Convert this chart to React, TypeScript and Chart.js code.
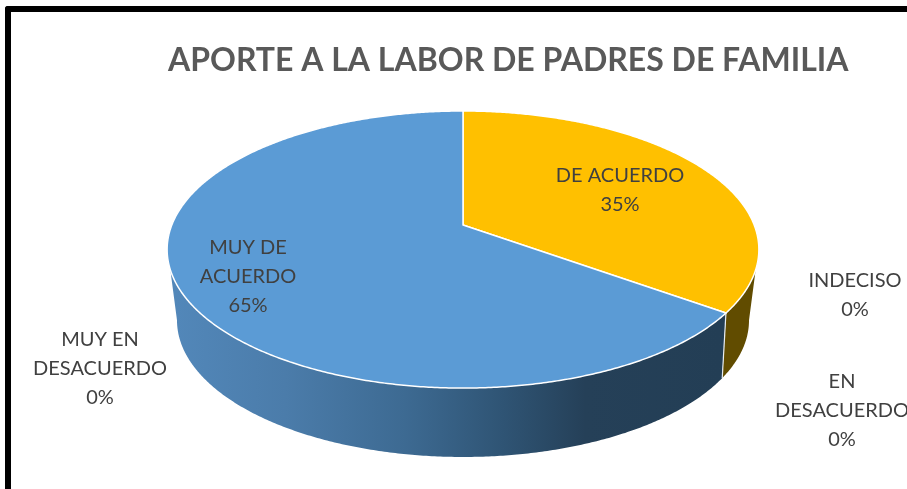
import React, { useEffect, useRef } from "react";
import { Chart, registerables } from "chart.js";

Chart.register(...registerables);

const categories = ["DE ACUERDO", "INDECISO", "EN DESACUERDO", "MUY EN DESACUERDO", "MUY DE ACUERDO"];
const values = [35, 0, 0, 0, 65];
const topColors = ["#FFC000", "#A5A5A5", "#ED7D31", "#4472C4", "#5B9BD5"];
const wrappedLabels = [["DE ACUERDO"], ["INDECISO"], ["EN", "DESACUERDO"], ["MUY EN", "DESACUERDO"], ["MUY DE", "ACUERDO"]];
const chartTitle = "APORTE A LA LABOR DE PADRES DE FAMILIA";

// label block centres (x, y of the first line)
const labelAnchors = [
  [620, 176],
  [855, 281],
  [842, 382],
  [100, 340],
  [248, 248],
];

// perspective of the upper and lower discs
const TOP = { rx: 291.2, ry: 134.2, k: 0.177, dy: 0 };
const LOW = { rx: 279, ry: 130, k: 0.22, dy: 65.3 };
const TOP_SIDE_START = 0.3216;
const LOW_SIDE_START = 0.2218;
// chart area is widened to the right so the title keeps its natural width
const PIE_SHIFT_X = -74.5;

type Disc = typeof TOP;
const project = (d: Disc, cx: number, cy: number, a: number) => {
  const u = Math.cos(a);
  const v = Math.sin(a);
  const w = 1 - d.k * v;
  return [cx + PIE_SHIFT_X + (d.rx * u) / w, cy + d.dy + (d.ry * v) / w];
};

const trace = (ctx: CanvasRenderingContext2D, d: Disc, cx: number, cy: number, a0: number, a1: number) => {
  const n = Math.max(2, Math.ceil(Math.abs(a1 - a0) / 0.008));
  for (let i = 0; i <= n; i++) {
    const [x, y] = project(d, cx, cy, a0 + ((a1 - a0) * i) / n);
    ctx.lineTo(x, y);
  }
};

const pie3d = {
  id: "pie3d",
  beforeDatasetDraw(chart: any) {
    const ctx: CanvasRenderingContext2D = chart.ctx;
    const arcs = chart.getDatasetMeta(0).data.filter((_: any, i: number) => values[i] > 0);
    ctx.save();
    // side walls
    arcs.forEach((arc: any, idx: number) => {
      const { x: cx, y: cy, startAngle, endAngle } = arc;
      const t0 = Math.max(startAngle, TOP_SIDE_START);
      const t1 = Math.min(endAngle, Math.PI - TOP_SIDE_START);
      const l0 = startAngle > LOW_SIDE_START ? startAngle : LOW_SIDE_START;
      const l1 = Math.min(endAngle, Math.PI - LOW_SIDE_START);
      ctx.beginPath();
      trace(ctx, TOP, cx, cy, t0, t1);
      trace(ctx, LOW, cx, cy, l1, l0);
      ctx.closePath();
      if (idx === 0) {
        ctx.fillStyle = "#614C00";
      } else {
        const g = ctx.createLinearGradient(176, 0, 722, 0);
        g.addColorStop(0, "#5287B9");
        g.addColorStop(0.2, "#4B7CAA");
        g.addColorStop(0.42, "#3D6A92");
        g.addColorStop(0.6, "#2F5474");
        g.addColorStop(0.75, "#254058");
        g.addColorStop(1, "#233E55");
        ctx.fillStyle = g;
      }
      ctx.fill();
    });
    // seam between the two walls
    const seam = arcs[0];
    const [sx0, sy0] = project(TOP, seam.x, seam.y, seam.endAngle);
    const [sx1, sy1] = project(LOW, seam.x, seam.y, seam.endAngle);
    ctx.strokeStyle = "#E8EDF2";
    ctx.lineWidth = 1.2;
    ctx.beginPath();
    ctx.moveTo(sx0, sy0);
    ctx.lineTo(sx1, sy1);
    ctx.stroke();
    // top faces
    arcs.forEach((arc: any) => {
      const { x: cx, y: cy, startAngle, endAngle } = arc;
      ctx.beginPath();
      ctx.moveTo(cx + PIE_SHIFT_X, cy);
      trace(ctx, TOP, cx, cy, startAngle, endAngle);
      ctx.closePath();
      ctx.fillStyle = arc.options.backgroundColor;
      ctx.fill();
      ctx.lineJoin = "round";
      ctx.lineWidth = 1.5;
      ctx.strokeStyle = "#FFFFFF";
      ctx.stroke();
    });
    ctx.restore();
    return false;
  },
  afterDraw(chart: any) {
    const ctx: CanvasRenderingContext2D = chart.ctx;
    const total = values.reduce((a, b) => a + b, 0);
    ctx.save();
    ctx.font = "20px Lato";
    ctx.fillStyle = "#404040";
    ctx.textAlign = "center";
    ctx.textBaseline = "middle";
    const lh = 29;
    categories.forEach((_, i) => {
      const [x, y] = labelAnchors[i];
      const lines = [...wrappedLabels[i], `${Math.round((values[i] / total) * 100)}%`];
      lines.forEach((t, j) => ctx.fillText(t, x, y + j * lh));
    });
    ctx.restore();
  },
};

export default function App() {
  const ref = useRef<HTMLCanvasElement>(null);
  useEffect(() => {
    const chart = new Chart(ref.current!, {
      type: "pie",
      data: {
        labels: categories,
        datasets: [{ data: values, backgroundColor: topColors, borderWidth: 0 }],
      },
      options: {
        animation: false,
        responsive: false,
        layout: { padding: { left: 168, right: 0, top: 0, bottom: 127.4 } },
        plugins: {
          legend: { display: false },
          tooltip: { enabled: false },
          title: {
            display: true,
            text: chartTitle,
            align: "start",
            color: "#595959",
            font: { family: "Lato", size: 32, weight: "bold", lineHeight: 1.2 },
            padding: { top: 41, bottom: 9 },
          },
        },
      },
      plugins: [pie3d],
    } as any);
    return () => chart.destroy();
  }, []);
  return (
    <div style={{ position: "absolute", left: 0, top: 0, width: 907, height: 489, overflow: "hidden", background: "#fff" }}>
      <canvas ref={ref} width={907} height={489} style={{ display: "block" }} />
      <div
        style={{
          position: "absolute",
          left: 5,
          top: 6,
          right: 0,
          bottom: 0,
          borderLeft: "6px solid #000",
          borderTop: "6px solid #000",
          borderTopLeftRadius: 3,
          pointerEvents: "none",
        }}
      />
    </div>
  );
}
